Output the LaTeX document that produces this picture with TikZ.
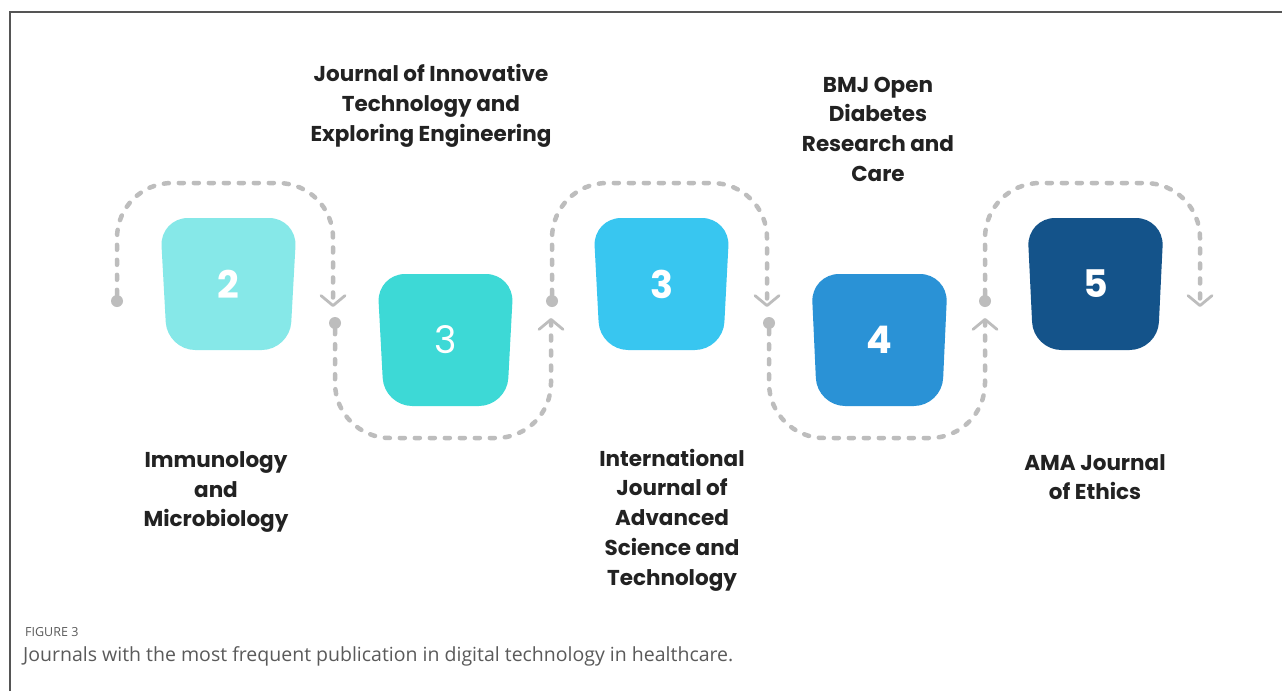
\documentclass[tikz,border=0pt]{standalone}
\usepackage{fontspec}
\setmainfont{Poppins}
\newfontfamily\capfont{Open Sans}
\usetikzlibrary{shapes.geometric,arrows.meta}
\definecolor{cA}{HTML}{86E8E8}
\definecolor{cB}{HTML}{3DD9D6}
\definecolor{cC}{HTML}{38C6F0}
\definecolor{cD}{HTML}{2A92D6}
\definecolor{cE}{HTML}{14538A}
\definecolor{flowgray}{HTML}{BDBDBD}
\definecolor{framegray}{HTML}{555555}
\definecolor{txt}{HTML}{222222}
\definecolor{captxt}{HTML}{5A5A5A}
\begin{document}
\begin{tikzpicture}[x=1pt,y=-1pt,
  box/.style={trapezium, shape border rotate=180, trapezium stretches=true,
    trapezium angle=87.4, minimum width=137pt, minimum height=132pt,
    rounded corners=28pt, fill=#1, draw=none, text=white, inner sep=0pt,
    font=\fontsize{38}{40}\selectfont\bfseries},
  dotnode/.style={circle, fill=flowgray, minimum size=12pt, inner sep=0pt},
  flow/.style={draw=flowgray, line width=4.5pt, line cap=round,
    dash pattern=on 5pt off 10pt, rounded corners=55pt,
    -{Straight Barb[length=10pt,width=24pt,line width=2.8pt,round]}},
  lbl/.style={align=center, text=txt, font=\fontsize{21.5}{29.7}\selectfont\bfseries},
]
\useasboundingbox (0,0) rectangle (1282,691);
\fill[white] (0,0) rectangle (1282,691);
\draw[framegray, line width=1.5pt] (10,691) -- (10,12) -- (1282,12);

% boxes
\node[box=cA] (b1) at (228.5,284) {2};
\node[box=cB, font=\fontsize{38}{40}\selectfont] (b2) at (445.5,340) {3};
\node[box=cC] (b3) at (661.5,284) {3};
\node[box=cD] (b4) at (879.5,340) {4};
\node[box=cE] (b5) at (1095.5,284) {5};

% dots
\node[dotnode] (d1) at (117,301) {};
\node[dotnode] (d2) at (335,323) {};
\node[dotnode] (d3) at (552,301) {};
\node[dotnode] (d4) at (769,323) {};
\node[dotnode] (d5) at (985,301) {};

% chevron ends
\coordinate (e1) at (333,307);
\coordinate (e2) at (551,318);
\coordinate (e3) at (767,307);
\coordinate (e4) at (985,318);
\coordinate (e5) at (1200,307);

\draw[flow] (d1.north) -- (117,183) -- (333,183) -- (e1);
\draw[flow] (d2.south) -- (335,438) -- (551,438) -- (e2);
\draw[flow] (d3.north) -- (552,183) -- (767,183) -- (e3);
\draw[flow] (d4.south) -- (769,438) -- (985,438) -- (e4);
\draw[flow] (d5.north) -- (985,183) -- (1200,183) -- (e5);

% labels
\node[lbl] (l2) at (431,106) {Journal of Innovative\\Technology and\\Exploring Engineering};
\node[lbl] (l4) at (878,129) {BMJ Open\\Diabetes\\Research and\\Care};
\node[lbl] (l1) at (216,492) {Immunology\\and\\Microbiology};
\node[lbl] (l3) at (672,520) {International\\Journal of\\Advanced\\Science and\\Technology};
\node[lbl] (l5) at (1095,477) {AMA Journal\\of Ethics};

% caption
\node[anchor=west, text=captxt, font=\capfont\fontsize{12.5}{14}\selectfont, inner sep=0pt] (fig) at (25,632) {FIGURE 3};
\node[anchor=west, text=captxt, font=\capfont\fontsize{19.5}{21}\selectfont, inner sep=0pt] (cap) at (23,656) {Journals with the most frequent publication in digital technology in healthcare.};
\end{tikzpicture}
\end{document}
